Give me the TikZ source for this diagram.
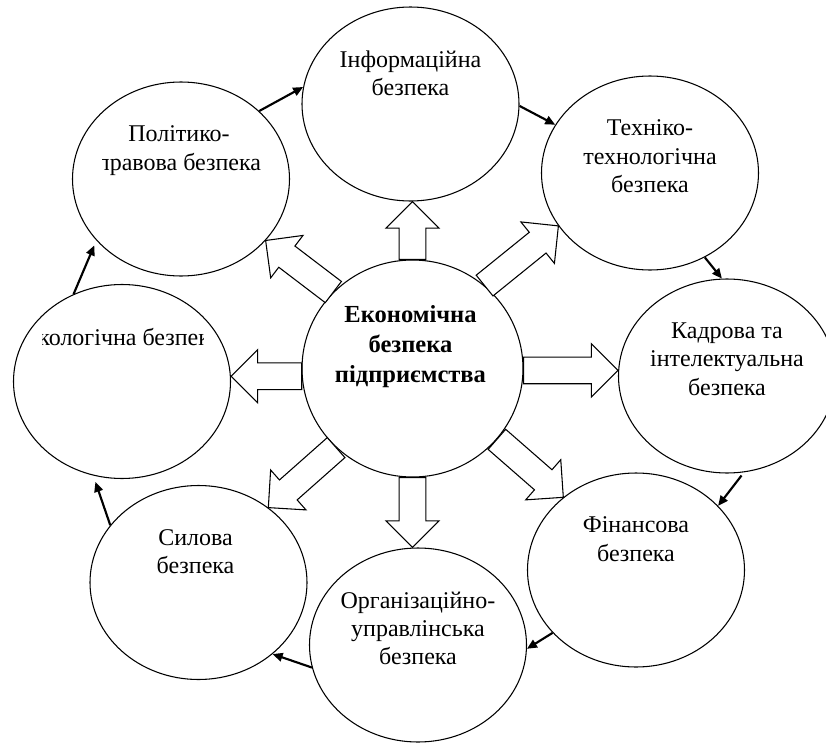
\documentclass[tikz,border=0pt]{standalone}
\usepackage{fontspec}
\setmainfont{Liberation Serif}
\usetikzlibrary{positioning,arrows.meta,shapes.geometric,calc}

% hollow block arrow from #1 to #2
\newcommand{\blockarrow}[2]{%
  \coordinate (bh) at ($(#2)!20pt!(#1)$);
  \draw[blockarrow] ($(#1)!10pt!90:(#2)$) -- ($(bh)!10pt!90:(#2)$)
    -- ($(bh)!20pt!90:(#2)$) -- (#2) -- ($(bh)!20pt!-90:(#2)$)
    -- ($(bh)!10pt!-90:(#2)$) -- ($(#1)!10pt!-90:(#2)$) -- cycle;}

\begin{document}
\begin{tikzpicture}[
    x=0.75pt, y=-0.75pt,
    oval/.style={ellipse, draw=black, line width=0.8pt, minimum width=162.75pt, minimum height=145.5pt, inner sep=0pt},
    txt/.style={align=center, inner sep=0pt, font=\fontsize{18}{21.3}\selectfont},
    cyclearrow/.style={-{Triangle[length=7.5pt, width=6.5pt]}, line width=1.6pt},
    blockarrow/.style={draw=black, fill=white, line width=0.8pt, line join=miter}
]

\useasboundingbox (0,0) rectangle (826,743);

% Nodes
\node[oval, minimum width=165.75pt, minimum height=162.75pt] (econ) at (412.5,368.5) {};
\node[oval] (info) at (410.5,104) {};
\node[oval] (polit) at (181,179) {};
\node[oval] (tech) at (650,173) {};
\node[oval] (kadr) at (727,376) {};
\node[oval] (fin) at (636,570) {};
\node[oval] (org) at (418,645) {};
\node[oval] (sil) at (198.5,582.5) {};
\node[oval] (eco) at (122,381.5) {};

% Texts
\node[txt, font=\bfseries\fontsize{18.4}{22.5}\selectfont, below=34pt of econ.north, xshift=-1.5pt] (econtext) {Економічна\\безпека\\підприємства};
\node[txt, below=33pt of info.north] (infotext) {Інформаційна\\безпека};
\node[txt, below=33pt of tech.north] (techtext) {Техніко-\\технологічна\\безпека};
\node[txt, below=33pt of kadr.north] (kadrtext) {Кадрова та\\інтелектуальна\\безпека};
\node[txt, below=33pt of fin.north] (fintext) {Фінансова\\безпека};
\node[txt, below=33pt of org.north] (orgtext) {Організаційно-\\управлінська\\безпека};
\node[txt, below=33pt of sil.north, xshift=-2.25pt] (siltext) {Силова\\безпека};
\begin{scope}
  \clip (102,115) rectangle (300,200);
  \node[txt, below=33pt of polit.north, xshift=-1.5pt] (polittext) {Політико-\\правова безпека};
\end{scope}
\begin{scope}
  \clip (42,315) rectangle (203,370);
  \node[txt, below=33pt of eco.north] (ecotext) {Екологічна безпека};
\end{scope}

% Block arrows
\coordinate (uptip) at (econ.north |- info.south);
\coordinate (lefttip) at (eco.east |- econ.184);
\coordinate (righttip) at (kadr.west |- econ.-1);
\coordinate (downtip) at (econ.south |- org.north);
\blockarrow{econ.north}{uptip}
\blockarrow{econ.184}{lefttip}
\blockarrow{econ.-1}{righttip}
\blockarrow{econ.south}{downtip}
\blockarrow{econ.136}{polit.-36}
\blockarrow{econ.49}{tech.210}
\blockarrow{econ.226}{sil.47}
\blockarrow{econ.-40}{fin.135}

% Arrows
\draw[cyclearrow] (polit.41) -- (info.171);
\draw[cyclearrow] (info.-1) -- (tech.153);
\draw[cyclearrow] (tech.-57) -- (kadr.93);
\draw[cyclearrow, shorten <=3pt] (kadr.-80) -- (fin.38);
\draw[cyclearrow] (fin.217) -- (org.-2);
\draw[cyclearrow] (org.192) -- (sil.-44);
\draw[cyclearrow, shorten >=5pt] (sil.147) -- (eco.253);
\draw[cyclearrow, shorten >=4pt] (eco.119) -- (polit.216);

\end{tikzpicture}
\end{document}
